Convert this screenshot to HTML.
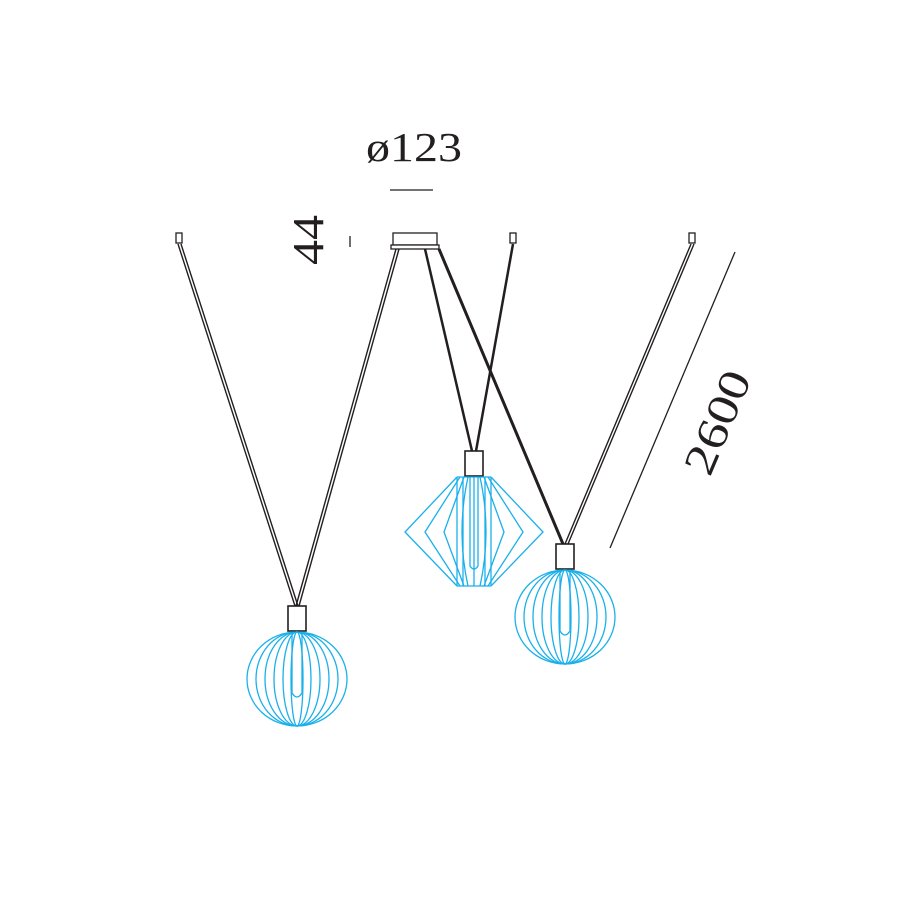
<!DOCTYPE html>
<html><head><meta charset="utf-8"><style>
html,body{margin:0;padding:0;background:#fff}
svg{display:block}
text{font-family:"Liberation Serif",serif;fill:#231f20}
</style></head><body>
<svg width="900" height="900" viewBox="0 0 900 900" xmlns="http://www.w3.org/2000/svg">
<rect width="900" height="900" fill="#fff"/>
<text x="414" y="161" font-size="41" text-anchor="middle" textLength="96" lengthAdjust="spacingAndGlyphs">ø123</text>
<line x1="390" y1="190" x2="433" y2="190" stroke="#231f20" stroke-width="1.3"/>
<text transform="translate(323,240) rotate(-90)" font-size="44" text-anchor="middle" textLength="50" lengthAdjust="spacingAndGlyphs">44</text>
<line x1="350" y1="236" x2="350" y2="247" stroke="#231f20" stroke-width="1.3"/>
<line x1="735" y1="252" x2="610" y2="548" stroke="#231f20" stroke-width="1.3"/>
<text transform="translate(731,428) rotate(-67)" font-size="44" text-anchor="middle" textLength="108" lengthAdjust="spacingAndGlyphs">2600</text>

<g fill="#fff" stroke="#231f20" stroke-width="1.3">
<rect x="176" y="233" width="6" height="10"/>
<rect x="510" y="233" width="6" height="10"/>
<rect x="689" y="233" width="6" height="10"/>
<rect x="393" y="233" width="44" height="12"/>
<rect x="391" y="245" width="48" height="4"/>
</g>
<g stroke="#231f20" fill="none">
<path d="M178 244 L295 606 M181 244 L298 606" stroke-width="1.4"/>
<path d="M396 249 L296 606 M399 249 L299 606" stroke-width="1.4"/>
<path d="M425 249 L472 451" stroke-width="2.5"/>
<path d="M513 244 L476 451" stroke-width="2.5"/>
<path d="M439 249 L563 544" stroke-width="3"/>
<path d="M691 244 L565 544 M694 244 L568 544" stroke-width="1.4"/>
</g>
<g fill="#fff" stroke="#231f20" stroke-width="1.6">
<rect x="288" y="606" width="18" height="25"/>
<rect x="465" y="451" width="18" height="25"/>
<rect x="556" y="544" width="18" height="25"/>
</g>
<g stroke="#1ab0ea" stroke-width="1.3" fill="none">
<ellipse cx="297" cy="679" rx="50" ry="47"/>
<ellipse cx="297" cy="679" rx="41" ry="47"/>
<ellipse cx="297" cy="679" rx="32" ry="47"/>
<ellipse cx="297" cy="679" rx="23" ry="47"/>
<ellipse cx="297" cy="679" rx="14" ry="47"/>
<ellipse cx="297" cy="679" rx="6" ry="47"/>
<path d="M292 632 L292 693 Q297 701 302 693 L302 632"/>
</g>
<g stroke="#1ab0ea" stroke-width="1.3" fill="none">
<ellipse cx="565" cy="617" rx="50" ry="47"/>
<ellipse cx="565" cy="617" rx="41" ry="47"/>
<ellipse cx="565" cy="617" rx="32" ry="47"/>
<ellipse cx="565" cy="617" rx="23" ry="47"/>
<ellipse cx="565" cy="617" rx="14" ry="47"/>
<ellipse cx="565" cy="617" rx="6" ry="47"/>
<path d="M560 570 L560 631 Q565 639 570 631 L570 570"/>
</g>
<g stroke="#1ab0ea" stroke-width="1.3" fill="none">
<path d="M457 477 L491 477 M457 586 L491 586"/>
<path d="M457 477 L405 532 L457 586 M491 477 L543 532 L491 586"/>
<path d="M460 477 L425 532 L460 586 M488 477 L523 532 L488 586"/>
<path d="M464 477 L444 532 L464 586 M484 477 L504 532 L484 586"/>
<path d="M468 477 Q456 532 468 586 M480 477 Q492 532 480 586"/>
<path d="M457 477 L457 586 M491 477 L491 586 M463 477 L463 586 M485 477 L485 586"/>
<path d="M470 477 L470 566 Q474 572 478 566 L478 477"/>
<path d="M474 477 L474 586"/>
</g>
</svg>
</body></html>
